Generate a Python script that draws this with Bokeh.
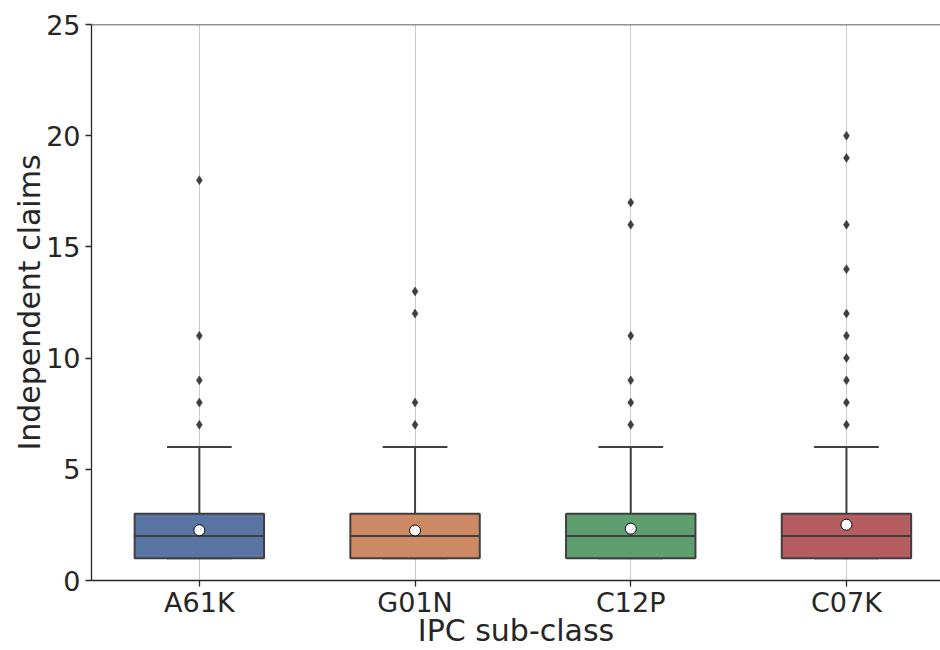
from bokeh.plotting import figure
from bokeh.models import ColumnDataSource, FixedTicker, Range1d, Span
from bokeh.embed import file_html
from bokeh.resources import INLINE

categories = ["A61K", "G01N", "C12P", "C07K"]
q1 = [1, 1, 1, 1]
median = [2, 2, 2, 2]
q3 = [3, 3, 3, 3]
whisker_low = [1, 1, 1, 1]
whisker_high = [6, 6, 6, 6]
means = [2.26, 2.25, 2.33, 2.51]
outliers = [
    [18, 11, 9, 8, 7],
    [13, 12, 8, 7],
    [17, 16, 11, 9, 8, 7],
    [20, 19, 16, 14, 12, 11, 10, 9, 8, 7],
]
colors = ["#5975a4", "#cc8963", "#5f9e6e", "#b55d60"]
y_ticks = [0, 5, 10, 15, 20, 25]
y_max = 25
x_title = "IPC sub-class"
y_title = "Independent claims"

box_w = 0.6
cap_w = 0.3
edge = "#3f3f3f"
axis_c = "#262626"
FONT = "DejaVu Sans"

xs = list(range(len(categories)))

p = figure(width=940, height=650, output_backend="svg", toolbar_location=None,
           x_range=Range1d(-0.5, 3.436), y_range=Range1d(0, y_max),
           min_border_left=91, min_border_top=24, min_border_right=0, min_border_bottom=10)

p.outline_line_color = None
p.background_fill_color = "white"
p.border_fill_color = "white"

box_src = ColumnDataSource(dict(x=xs, q1=q1, q3=q3, med=median, lo=whisker_low, hi=whisker_high,
                                mean=means, color=colors,
                                l=[x - box_w / 2 for x in xs], r=[x + box_w / 2 for x in xs],
                                cl=[x - cap_w / 2 for x in xs], cr=[x + cap_w / 2 for x in xs]))

# whiskers
p.segment(x0="x", y0="q3", x1="x", y1="hi", source=box_src, line_color=edge, line_width=2)
p.segment(x0="x", y0="lo", x1="x", y1="q1", source=box_src, line_color=edge, line_width=2)
p.segment(x0="cl", y0="hi", x1="cr", y1="hi", source=box_src, line_color=edge, line_width=2)
p.segment(x0="cl", y0="lo", x1="cr", y1="lo", source=box_src, line_color=edge, line_width=2)
# boxes
p.vbar(x="x", bottom="q1", top="q3", width=box_w, source=box_src,
       fill_color="color", line_color=edge, line_width=2)
# medians
p.segment(x0="l", y0="med", x1="r", y1="med", source=box_src, line_color=edge, line_width=2)

# outliers
ox, oy = [], []
for i, vals in enumerate(outliers):
    for v in vals:
        ox.append(i)
        oy.append(v)
p.scatter(ox, oy, marker="diamond", size=9, fill_color=edge, line_color=edge, line_width=0.5)

# means
p.scatter(x="x", y="mean", source=box_src, marker="circle", size=11,
          fill_color="white", line_color="black", line_width=1)

# grid
p.xgrid.ticker = FixedTicker(ticks=xs)
p.xgrid.grid_line_color = "#cccccc"
p.xgrid.grid_line_width = 1
p.ygrid.grid_line_color = None

# top spine
p.add_layout(Span(location=y_max, dimension="width", line_color=axis_c, line_width=1.3))

# axes
p.xaxis.ticker = FixedTicker(ticks=xs)
p.xaxis.major_label_overrides = {i: c for i, c in enumerate(categories)}
p.yaxis.ticker = FixedTicker(ticks=y_ticks)
p.xaxis.axis_label = x_title
p.yaxis.axis_label = y_title
for ax in (p.xaxis, p.yaxis):
    ax.axis_line_color = axis_c
    ax.axis_line_width = 1.3
    ax.major_tick_line_color = axis_c
    ax.major_tick_line_width = 1.3
    ax.major_tick_out = 6
    ax.major_tick_in = 0
    ax.minor_tick_line_color = None
    ax.major_label_text_font = FONT
    ax.major_label_text_font_size = "27px"
    ax.major_label_text_color = axis_c
    ax.axis_label_text_font = FONT
    ax.axis_label_text_font_size = "30px"
    ax.axis_label_text_font_style = "normal"
    ax.axis_label_text_color = axis_c
p.xaxis.major_label_standoff = 0
p.xaxis.axis_label_standoff = -8
p.yaxis.major_label_standoff = 5
p.yaxis.axis_label_standoff = -4

open("out.html", "w").write(file_html(p, INLINE))
